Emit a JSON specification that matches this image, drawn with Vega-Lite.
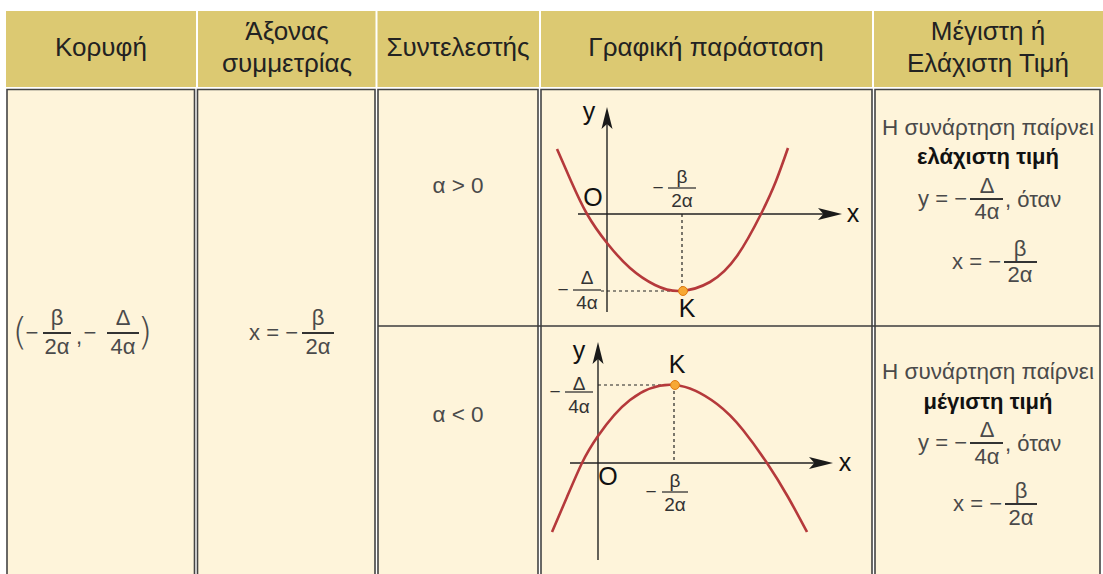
{
  "$schema": "https://vega.github.io/schema/vega-lite/v6.json",
  "width": 1103,
  "height": 574,
  "padding": 0,
  "autosize": {"type": "fit", "contains": "padding"},
  "background": "#ffffff",
  "config": {"view": {"stroke": null}},
  "datasets": {
    "hdr": [
      {"x": 6, "x2": 196, "y": 11, "y2": 87},
      {"x": 198, "x2": 375.5, "y": 11, "y2": 87},
      {"x": 377.5, "x2": 539, "y": 11, "y2": 87},
      {"x": 541, "x2": 872, "y": 11, "y2": 87},
      {"x": 874, "x2": 1103, "y": 11, "y2": 87}
    ],
    "cell": [
      {"x": 7, "x2": 194.5, "y": 89.5, "y2": 590},
      {"x": 197.5, "x2": 375, "y": 89.5, "y2": 590},
      {"x": 378, "x2": 538, "y": 89.5, "y2": 590},
      {"x": 541, "x2": 872, "y": 89.5, "y2": 590},
      {"x": 875, "x2": 1100, "y": 89.5, "y2": 590}
    ],
    "axisrules": [
      {"x": 578, "y": 214, "x2": 832, "y2": 214},
      {"x": 607, "y": 122, "x2": 607, "y2": 312},
      {"x": 570, "y": 463, "x2": 824, "y2": 463},
      {"x": 598, "y": 356, "x2": 598, "y2": 560}
    ],
    "divider": [
      {"x": 378, "y": 326, "x2": 1100, "y2": 326}
    ],
    "dash": [
      {"x": 682, "y": 214, "x2": 682, "y2": 291},
      {"x": 601, "y": 291, "x2": 683, "y2": 291},
      {"x": 598, "y": 385, "x2": 675, "y2": 385},
      {"x": 674, "y": 385, "x2": 674, "y2": 463}
    ],
    "bars": [
      {"x": 43, "y": 333, "x2": 71, "y2": 333},
      {"x": 107, "y": 333, "x2": 139, "y2": 333},
      {"x": 302, "y": 333, "x2": 334, "y2": 333},
      {"x": 970, "y": 199, "x2": 1003, "y2": 199},
      {"x": 1004, "y": 262, "x2": 1037, "y2": 262},
      {"x": 970, "y": 443, "x2": 1003, "y2": 443},
      {"x": 1005, "y": 504, "x2": 1037, "y2": 504}
    ],
    "gbars": [
      {"x": 668, "y": 188, "x2": 696, "y2": 188},
      {"x": 573, "y": 290, "x2": 601, "y2": 290},
      {"x": 565, "y": 392, "x2": 593, "y2": 392},
      {"x": 662, "y": 492, "x2": 688, "y2": 492}
    ],
    "curve": [
      {"c": "a", "x": 557, "y": 149},
      {"c": "a", "x": 571, "y": 181},
      {"c": "a", "x": 587, "y": 214},
      {"c": "a", "x": 607, "y": 243},
      {"c": "a", "x": 630, "y": 268},
      {"c": "a", "x": 655, "y": 285},
      {"c": "a", "x": 680, "y": 291},
      {"c": "a", "x": 710, "y": 282},
      {"c": "a", "x": 737, "y": 256},
      {"c": "a", "x": 761, "y": 214},
      {"c": "a", "x": 776, "y": 181},
      {"c": "a", "x": 788, "y": 148},
      {"c": "b", "x": 552, "y": 532},
      {"c": "b", "x": 567, "y": 497},
      {"c": "b", "x": 582, "y": 463},
      {"c": "b", "x": 598, "y": 436},
      {"c": "b", "x": 630, "y": 400},
      {"c": "b", "x": 675, "y": 385},
      {"c": "b", "x": 717, "y": 404},
      {"c": "b", "x": 743, "y": 430},
      {"c": "b", "x": 767, "y": 463},
      {"c": "b", "x": 788, "y": 497},
      {"c": "b", "x": 807, "y": 532}
    ],
    "vertex": [
      {"x": 683, "y": 291},
      {"x": 675, "y": 385}
    ],
    "arrowx": [
      {"x": 830, "y": 214},
      {"x": 821, "y": 463}
    ],
    "arrowy": [
      {"x": 607, "y": 118},
      {"x": 598, "y": 353}
    ],
    "hdrtext": [
      {"x": 101, "y": 48, "t": "Κορυφή"},
      {"x": 287, "y": 32, "t": "Άξονας"},
      {"x": 287, "y": 64, "t": "συμμετρίας"},
      {"x": 458, "y": 48, "t": "Συντελεστής"},
      {"x": 706, "y": 48, "t": "Γραφική παράσταση"},
      {"x": 988, "y": 32, "t": "Μέγιστη ή"},
      {"x": 988, "y": 64, "t": "Ελάχιστη Τιμή"}
    ],
    "bodytext": [
      {"x": 458, "y": 186, "t": "α > 0"},
      {"x": 458, "y": 415, "t": "α < 0"},
      {"x": 988, "y": 128, "t": "Η συνάρτηση παίρνει"},
      {"x": 988, "y": 372, "t": "Η συνάρτηση παίρνει"}
    ],
    "mathtext": [
      {"x": 57, "y": 318, "t": "β"},
      {"x": 57, "y": 347, "t": "2α"},
      {"x": 32, "y": 333, "t": "−"},
      {"x": 79, "y": 337, "t": ","},
      {"x": 90, "y": 333, "t": "−"},
      {"x": 123, "y": 318, "t": "Δ"},
      {"x": 123, "y": 347, "t": "4α"},
      {"x": 318, "y": 318, "t": "β"},
      {"x": 318, "y": 347, "t": "2α"},
      {"x": 987, "y": 186, "t": "Δ"},
      {"x": 987, "y": 212, "t": "4α"},
      {"x": 1020, "y": 249, "t": "β"},
      {"x": 1020, "y": 275, "t": "2α"},
      {"x": 987, "y": 430, "t": "Δ"},
      {"x": 987, "y": 457, "t": "4α"},
      {"x": 1021, "y": 491, "t": "β"},
      {"x": 1021, "y": 518, "t": "2α"}
    ],
    "righttext": [
      {"x": 298, "y": 333, "t": "x = −"},
      {"x": 967, "y": 199, "t": "y = −"},
      {"x": 1001, "y": 262, "t": "x = −"},
      {"x": 967, "y": 443, "t": "y = −"},
      {"x": 1002, "y": 504, "t": "x = −"}
    ],
    "lefttext": [
      {"x": 1005, "y": 200, "t": ", όταν"},
      {"x": 1005, "y": 444, "t": ", όταν"}
    ],
    "boldtext": [
      {"x": 988, "y": 157, "t": "ελάχιστη τιμή"},
      {"x": 988, "y": 402, "t": "μέγιστη τιμή"}
    ],
    "parens": [
      {"x": 20, "y": 333, "t": "("},
      {"x": 145, "y": 333, "t": ")"}
    ],
    "glabels": [
      {"x": 589, "y": 112, "t": "y"},
      {"x": 853, "y": 214, "t": "x"},
      {"x": 593, "y": 198, "t": "O"},
      {"x": 687, "y": 309, "t": "K"},
      {"x": 579, "y": 351, "t": "y"},
      {"x": 845, "y": 463, "t": "x"},
      {"x": 608, "y": 477, "t": "O"},
      {"x": 677, "y": 365, "t": "K"}
    ],
    "gfrac": [
      {"x": 658, "y": 188, "t": "−"},
      {"x": 682, "y": 177, "t": "β"},
      {"x": 682, "y": 201, "t": "2α"},
      {"x": 563, "y": 290, "t": "−"},
      {"x": 587, "y": 278, "t": "Δ"},
      {"x": 587, "y": 303, "t": "4α"},
      {"x": 555, "y": 392, "t": "−"},
      {"x": 579, "y": 384, "t": "Δ"},
      {"x": 579, "y": 407, "t": "4α"},
      {"x": 651, "y": 492, "t": "−"},
      {"x": 675, "y": 481, "t": "β"},
      {"x": 675, "y": 505, "t": "2α"}
    ]
  },
  "encoding": {
    "x": {"field": "x", "type": "quantitative", "scale": {"domain": [0, 1103], "nice": false, "zero": false}, "axis": null},
    "y": {"field": "y", "type": "quantitative", "scale": {"domain": [0, 574], "nice": false, "zero": false, "reverse": true}, "axis": null}
  },
  "layer": [
    {
      "data": {"name": "hdr"},
      "mark": {"type": "rect", "fill": "#DCC972", "strokeWidth": 0},
      "encoding": {"x2": {"field": "x2"}, "y2": {"field": "y2"}}
    },
    {
      "data": {"name": "cell"},
      "mark": {"type": "rect", "fill": "#FEF4DA", "stroke": "#444444", "strokeWidth": 1.6, "clip": true},
      "encoding": {"x2": {"field": "x2"}, "y2": {"field": "y2"}}
    },
    {
      "data": {"name": "divider"},
      "mark": {"type": "rule", "color": "#3C3C3C", "strokeWidth": 1.6},
      "encoding": {"x2": {"field": "x2"}, "y2": {"field": "y2"}}
    },
    {
      "data": {"name": "dash"},
      "mark": {"type": "rule", "color": "#222222", "strokeWidth": 1.2, "strokeDash": [3, 3]},
      "encoding": {"x2": {"field": "x2"}, "y2": {"field": "y2"}}
    },
    {
      "data": {"name": "axisrules"},
      "mark": {"type": "rule", "color": "#222222", "strokeWidth": 1.4},
      "encoding": {"x2": {"field": "x2"}, "y2": {"field": "y2"}}
    },
    {
      "data": {"name": "bars"},
      "mark": {"type": "rule", "color": "#333333", "strokeWidth": 2},
      "encoding": {"x2": {"field": "x2"}, "y2": {"field": "y2"}}
    },
    {
      "data": {"name": "gbars"},
      "mark": {"type": "rule", "color": "#333333", "strokeWidth": 1.3},
      "encoding": {"x2": {"field": "x2"}, "y2": {"field": "y2"}}
    },
    {
      "data": {"name": "curve"},
      "mark": {"type": "line", "interpolate": "natural", "color": "#B5393B", "strokeWidth": 2.6},
      "encoding": {"detail": {"field": "c", "type": "nominal"}}
    },
    {
      "data": {"name": "vertex"},
      "mark": {"type": "circle", "color": "#F7A833", "stroke": "#E07A10", "strokeWidth": 1, "size": 80, "opacity": 1}
    },
    {
      "data": {"name": "arrowx"},
      "mark": {"type": "point", "shape": "M1,0L-1,-0.5L-0.55,0L-1,0.5Z", "filled": true, "color": "#1A1A1A", "size": 576, "opacity": 1, "strokeWidth": 0}
    },
    {
      "data": {"name": "arrowy"},
      "mark": {"type": "point", "shape": "M0,-1L0.5,1L0,0.55L-0.5,1Z", "filled": true, "color": "#1A1A1A", "size": 484, "opacity": 1, "strokeWidth": 0}
    },
    {
      "data": {"name": "hdrtext"},
      "mark": {"type": "text", "font": "Liberation Sans", "fontSize": 26, "color": "#222222", "align": "center", "baseline": "middle"},
      "encoding": {"text": {"field": "t", "type": "nominal"}}
    },
    {
      "data": {"name": "bodytext"},
      "mark": {"type": "text", "font": "Liberation Sans", "fontSize": 22.5, "color": "#4A4A4A", "align": "center", "baseline": "middle"},
      "encoding": {"text": {"field": "t", "type": "nominal"}}
    },
    {
      "data": {"name": "mathtext"},
      "mark": {"type": "text", "font": "Liberation Sans", "fontSize": 22, "color": "#4A4A4A", "align": "center", "baseline": "middle"},
      "encoding": {"text": {"field": "t", "type": "nominal"}}
    },
    {
      "data": {"name": "righttext"},
      "mark": {"type": "text", "font": "Liberation Sans", "fontSize": 22, "color": "#4A4A4A", "align": "right", "baseline": "middle"},
      "encoding": {"text": {"field": "t", "type": "nominal"}}
    },
    {
      "data": {"name": "lefttext"},
      "mark": {"type": "text", "font": "Liberation Sans", "fontSize": 22, "color": "#4A4A4A", "align": "left", "baseline": "middle"},
      "encoding": {"text": {"field": "t", "type": "nominal"}}
    },
    {
      "data": {"name": "boldtext"},
      "mark": {"type": "text", "font": "Liberation Sans", "fontSize": 22, "fontWeight": "bold", "color": "#111111", "align": "center", "baseline": "middle"},
      "encoding": {"text": {"field": "t", "type": "nominal"}}
    },
    {
      "data": {"name": "parens"},
      "mark": {"type": "text", "font": "DejaVu Sans", "fontWeight": 200, "fontSize": 38, "color": "#4A4A4A", "align": "center", "baseline": "middle"},
      "encoding": {"text": {"field": "t", "type": "nominal"}}
    },
    {
      "data": {"name": "glabels"},
      "mark": {"type": "text", "font": "Liberation Sans", "fontSize": 25, "color": "#111111", "align": "center", "baseline": "middle"},
      "encoding": {"text": {"field": "t", "type": "nominal"}}
    },
    {
      "data": {"name": "gfrac"},
      "mark": {"type": "text", "font": "Liberation Sans", "fontSize": 19, "color": "#333333", "align": "center", "baseline": "middle"},
      "encoding": {"text": {"field": "t", "type": "nominal"}}
    }
  ]
}
